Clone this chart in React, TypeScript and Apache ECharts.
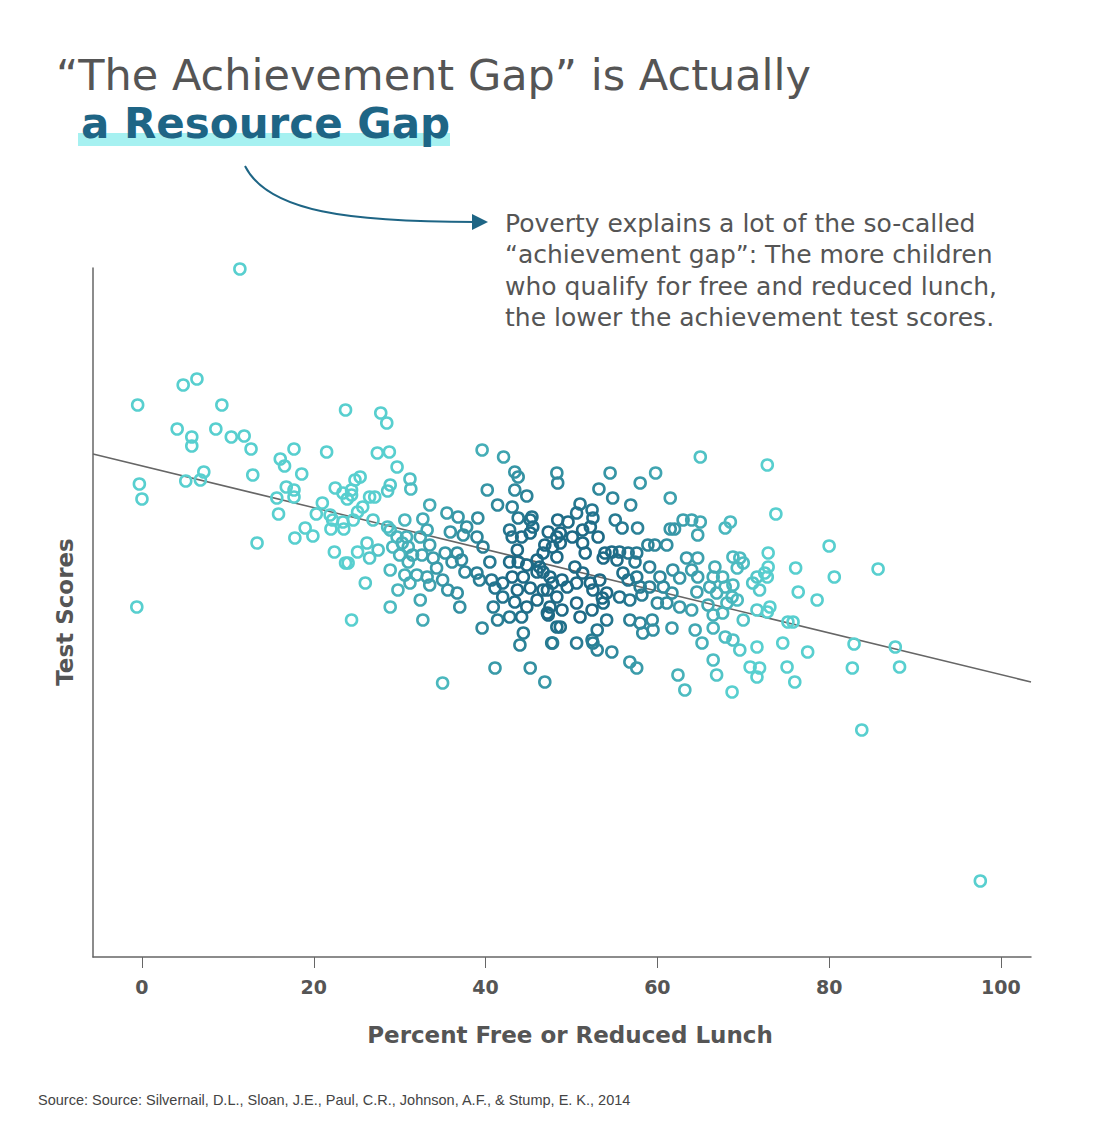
import React, { useEffect, useRef } from "react";
import * as echarts from "echarts";

// ---- data (percent free/reduced lunch vs. test score, arbitrary score units) ----
const lunchPct = [
  11.4,-0.5,4.8,6.4,9.3,4.1,5.8,5.8,8.6,10.4,11.9,12.7,-0.3,0.0,5.1,6.8,7.2,12.9,13.4,-0.6,
  16.1,16.6,17.7,18.6,21.5,23.7,15.7,16.8,17.7,17.7,15.9,17.8,19.0,19.9,20.3,21.0,21.9,22.5,23.4,23.9,
  22.0,23.5,22.4,23.7,27.8,28.5,27.4,28.8,29.7,31.2,31.3,28.9,28.6,25.4,24.8,24.4,24.4,26.5,27.1,25.7,
  25.1,22.2,23.4,24.6,26.9,28.6,33.5,30.6,32.7,35.5,36.8,37.8,39.1,40.2,41.4,39.6,42.1,43.4,43.8,43.4,
  43.1,44.8,45.4,43.8,48.3,48.4,26.2,27.5,26.5,25.1,24.0,28.9,29.7,29.2,30.3,30.8,31.0,30.0,31.0,31.5,
  32.4,33.2,33.5,32.6,33.9,34.3,28.9,30.6,32.0,33.2,26.0,29.8,31.2,28.9,32.4,33.5,24.4,32.7,35.0,35.6,
  36.7,37.0,35.3,36.1,36.7,37.2,37.6,35.9,37.4,39.0,39.7,39.0,39.3,40.5,40.7,41.1,42.0,42.0,40.9,41.4,
  42.8,43.1,43.7,44.2,45.2,42.8,43.8,44.8,46.0,43.1,44.4,46.0,46.7,43.7,45.2,46.7,47.8,43.4,44.8,46.0,
  47.2,42.8,44.2,39.6,44.4,44.0,41.1,45.2,46.9,35.0,47.7,48.3,47.5,48.3,46.7,47.8,48.3,47.3,48.3,45.2,
  45.5,65.0,72.8,54.5,59.8,58.0,53.2,54.8,56.9,61.5,51.0,52.4,52.5,48.4,49.6,50.6,51.3,53.1,50.1,48.7,
  52.2,55.1,55.9,57.7,61.5,62.0,63.0,64.0,65.0,64.7,67.9,68.5,58.9,59.7,61.1,53.9,54.7,55.6,56.6,57.6,
  53.7,55.3,57.4,51.3,51.6,50.4,48.7,46.9,46.3,47.5,48.9,47.2,49.5,50.6,51.3,52.2,52.5,53.3,54.1,53.6,
  56.0,56.6,57.6,58.0,59.1,60.3,61.8,62.6,64.0,64.7,63.4,64.7,59.1,60.7,61.7,55.6,56.8,58.2,60.0,61.1,
  62.6,64.0,64.6,66.1,66.9,65.9,66.7,66.5,67.6,67.9,68.8,68.7,68.8,69.6,70.0,69.3,69.3,68.1,70.0,66.5,
  67.6,71.6,72.8,71.1,71.9,71.6,72.8,47.3,48.9,50.6,48.7,51.0,52.4,53.7,54.1,53.0,52.4,56.8,58.0,59.4,
  59.5,58.3,61.7,47.8,50.6,52.5,53.0,54.7,56.8,57.6,64.4,65.2,66.5,67.9,68.8,69.6,66.5,66.9,68.7,62.4,
  63.2,71.6,70.8,71.9,71.6,73.8,80.0,85.7,80.6,72.9,72.9,72.5,76.1,76.4,78.6,73.1,75.2,75.8,74.6,77.5,
  75.1,76.0,82.9,87.7,82.7,88.2,83.8,97.6,
];

const testScore = [
  68.8,55.2,57.2,57.8,55.2,52.8,52.0,51.1,52.8,52.0,52.1,50.8,47.3,45.8,47.6,47.7,48.5,48.2,41.4,35.0,
  49.8,49.1,50.8,48.3,50.5,54.7,45.9,47.0,46.7,46.0,44.3,41.9,42.9,42.1,44.3,45.4,44.2,46.9,46.4,45.8,
  42.8,42.8,40.5,39.4,54.4,53.4,50.4,50.5,49.0,47.8,46.8,47.2,46.6,48.0,47.7,46.7,46.2,46.0,46.0,45.0,
  44.5,43.7,43.5,43.7,43.7,43.0,45.2,43.7,43.8,44.4,44.0,43.0,43.9,46.7,45.2,50.7,50.0,48.5,48.0,46.7,
  45.0,46.1,44.0,43.9,48.4,47.4,41.4,40.7,39.9,40.5,39.4,42.7,42.0,41.0,41.4,42.0,41.0,40.2,39.5,40.2,
  42.0,42.7,41.2,40.2,39.9,38.9,38.7,38.2,38.2,38.0,37.4,36.7,37.4,35.0,35.7,37.2,33.7,33.7,37.7,36.7,
  36.4,35.0,40.4,39.5,40.4,39.7,38.5,42.5,42.2,42.0,41.0,38.4,37.7,39.5,37.7,36.9,37.4,36.0,35.0,33.7,
  42.7,42.0,40.7,42.0,42.4,39.5,39.5,39.2,39.7,38.0,38.0,38.5,38.5,36.7,36.9,36.7,37.4,35.5,35.0,35.7,
  34.4,34.0,34.0,32.9,32.4,31.2,28.9,28.9,27.5,27.4,31.4,33.0,35.0,36.0,40.4,41.0,40.0,42.5,42.0,43.7,
  43.0,50.0,49.2,48.4,48.4,47.4,46.8,45.9,45.2,45.9,45.3,44.7,43.9,43.7,43.5,44.4,42.7,42.0,42.0,42.4,
  43.0,43.7,42.9,42.9,42.8,42.8,43.7,43.7,43.5,42.2,42.9,43.5,41.2,41.2,41.2,40.4,40.5,40.5,40.4,40.4,
  39.9,39.7,39.5,41.4,40.4,39.0,41.4,41.2,39.0,38.0,37.7,36.7,37.0,37.4,38.4,37.4,36.7,37.7,36.4,35.9,
  38.4,37.7,38.0,37.0,39.0,38.0,38.7,37.9,38.7,38.0,39.9,39.9,37.0,37.0,36.4,36.0,35.7,36.2,35.4,35.4,
  35.0,34.7,36.5,37.0,36.4,35.2,39.0,38.0,38.0,37.0,37.2,36.0,40.0,39.9,39.4,38.9,35.7,35.4,33.7,34.2,
  34.4,38.0,38.0,37.4,36.7,34.7,34.5,34.2,34.7,35.4,33.0,34.0,34.7,35.4,33.7,32.7,31.7,33.7,33.4,33.7,
  32.7,32.4,32.9,31.4,31.4,31.4,30.7,30.5,29.5,28.9,32.7,31.4,32.9,32.0,31.7,30.7,29.7,28.2,26.5,28.2,
  26.7,31.0,29.0,28.9,28.0,44.3,41.1,38.8,38.0,40.4,39.0,38.4,38.9,36.5,35.7,35.0,33.5,33.5,31.4,30.5,
  29.0,27.5,31.3,31.0,28.9,29.0,22.7,7.6,
];

const trendX = [-5.7, 103.5];
const trendY = [50.3, 27.5];
const xTicks = [0, 20, 40, 60, 80, 100];

const titleLine1 = "\u201CThe Achievement Gap\u201D is Actually";
const titleLine2 = "a Resource Gap";
const noteLines = [
  "Poverty explains a lot of the so-called",
  "\u201Cachievement gap\u201D: The more children",
  "who qualify for free and reduced lunch,",
  "the lower the achievement test scores.",
];
const xName = "Percent Free or Reduced Lunch";
const yName = "Test Scores";
const sourceText =
  "Source: Source: Silvernail, D.L., Sloan, J.E., Paul, C.R., Johnson, A.F., & Stump, E. K., 2014";

// ---- styling helpers ----
const DARK = [30, 106, 134];
const LIGHT = [88, 207, 207];
function pointColor(x: number, y: number) {
  const dx = (x - 49) / 24;
  const dy = (y - 38.5) / 19;
  const d = Math.sqrt(dx * dx + dy * dy);
  const t = Math.max(0, Math.min(1, (d - 0.25) / 0.75));
  const c = DARK.map((v, i) => Math.round(v + (LIGHT[i] - v) * t));
  return `rgb(${c[0]},${c[1]},${c[2]})`;
}

const FONT = "'DejaVu Sans', Inter, sans-serif";
const GREY = "#555555";

export default function App() {
  const ref = useRef<HTMLDivElement>(null);
  useEffect(() => {
    if (!ref.current) return;
    const chart = echarts.init(ref.current, null, { renderer: "svg" });

    const points = lunchPct.map((x, i) => ({
      value: [x, testScore[i]],
      itemStyle: { borderColor: pointColor(x, testScore[i]) },
    }));

    const graphic: any[] = [
      {
        type: "rect",
        shape: { x: 78, y: 133, width: 372, height: 13 },
        style: { fill: "#a6f1f1" },
        z: 1,
      },
      {
        type: "text",
        x: 56,
        y: 75,
        style: {
          text: titleLine1,
          font: `400 43px ${FONT}`,
          fill: GREY,
          textVerticalAlign: "middle",
        },
        z: 2,
      },
      {
        type: "text",
        x: 81,
        y: 123,
        style: {
          text: titleLine2,
          font: `700 42px ${FONT}`,
          fill: "#1e6585",
          textVerticalAlign: "middle",
        },
        z: 2,
      },
      {
        type: "bezierCurve",
        shape: { x1: 245, y1: 166, cpx1: 268, cpy1: 212, cpx2: 350, cpy2: 222, x2: 476, y2: 222 },
        style: { stroke: "#1e6585", lineWidth: 2, fill: null },
        z: 2,
      },
      {
        type: "polygon",
        shape: { points: [[472, 214], [488, 222], [472, 230]] },
        style: { fill: "#1e6585" },
        z: 2,
      },
      ...noteLines.map((line, i) => ({
        type: "text",
        x: 505,
        y: 223 + i * 31.5,
        style: {
          text: line,
          font: `400 25px ${FONT}`,
          fill: GREY,
          textVerticalAlign: "middle",
        },
        z: 2,
      })),
      {
        type: "text",
        x: 65,
        y: 612,
        rotation: Math.PI / 2,
        style: {
          text: yName,
          font: `700 23px ${FONT}`,
          fill: GREY,
          textAlign: "center",
          textVerticalAlign: "middle",
        },
      },
      {
        type: "text",
        x: 570,
        y: 1035,
        style: {
          text: xName,
          font: `700 23px ${FONT}`,
          fill: GREY,
          textAlign: "center",
          textVerticalAlign: "middle",
        },
      },
      {
        type: "text",
        x: 38,
        y: 1100,
        style: {
          text: sourceText,
          font: `400 14.5px 'Liberation Sans', sans-serif`,
          fill: "#444444",
          textVerticalAlign: "middle",
        },
      },
    ];

    chart.setOption({
      animation: false,
      backgroundColor: "#ffffff",
      grid: { left: 93, right: 69, top: 268, bottom: 176, containLabel: false },
      xAxis: {
        type: "value",
        min: trendX[0],
        max: trendX[1],
        splitLine: { show: false },
        axisLine: { show: true, onZero: false, lineStyle: { color: "#666", width: 1.5 } },
        axisTick: {
          show: true,
          customValues: xTicks,
          length: 11,
          lineStyle: { color: "#666", width: 1 },
        },
        axisLabel: {
          show: true,
          customValues: xTicks,
          margin: 20,
          color: GREY,
          fontFamily: FONT,
          fontSize: 19,
          fontWeight: 600,
        },
      },
      yAxis: {
        type: "value",
        min: 0,
        max: 68.9,
        splitLine: { show: false },
        axisLine: { show: true, onZero: false, lineStyle: { color: "#666", width: 1.5 } },
        axisTick: { show: false },
        axisLabel: { show: false },
      },
      series: [
        {
          type: "line",
          data: trendX.map((x, i) => [x, trendY[i]]),
          symbol: "none",
          lineStyle: { color: "#666", width: 1.5 },
          z: 1,
          silent: true,
        },
        {
          type: "scatter",
          data: points,
          symbol: "circle",
          symbolSize: 11,
          itemStyle: { color: "rgba(255,255,255,0)", borderWidth: 2.6, opacity: 1 },
          z: 2,
        },
      ],
      graphic,
    });

    return () => chart.dispose();
  }, []);

  return (
    <div
      ref={ref}
      style={{ position: "absolute", left: 0, top: 0, width: 1100, height: 1133 }}
    />
  );
}
